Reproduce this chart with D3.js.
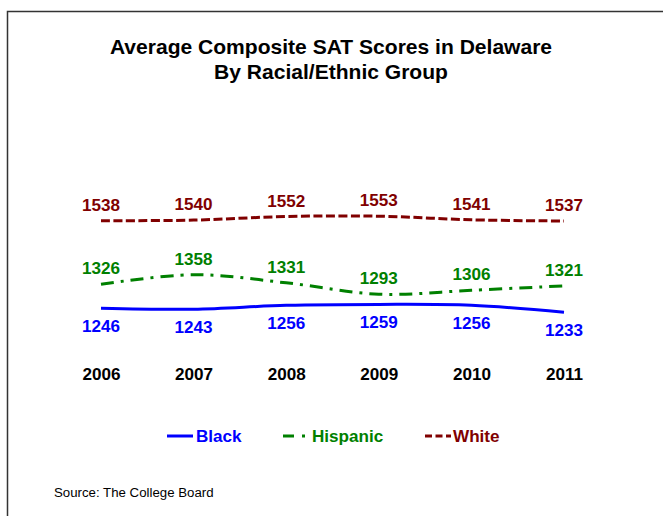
<!DOCTYPE html>
<head>
    <meta charset="utf-8"/>
    <script src="https://d3js.org/d3.v7.min.js"></script>
    <style>
        body { margin: 0; background: #fff; }
        text { font-family: "Liberation Sans", Arial, sans-serif; }
    </style>
</head>
<body>
<script>
    var width = 663,
        height = 516;

    // data
    var years = ["2006", "2007", "2008", "2009", "2010", "2011"];
    var black = [1246, 1243, 1256, 1259, 1256, 1233];
    var hispanic = [1326, 1358, 1331, 1293, 1306, 1321];
    var white = [1538, 1540, 1552, 1553, 1541, 1537];

    var series = [
        {name: "Black", values: black, color: "#0000ff", dash: null, labelDy: 24},
        {name: "Hispanic", values: hispanic, color: "#008000", dash: "13,7,3,7", labelDy: -10},
        {name: "White", values: white, color: "#800000", dash: "9,3.5", labelDy: -10}
    ];

    var svg = d3.select("body").append("svg")
        .attr("width", width)
        .attr("height", height);

    // frame
    svg.append("rect")
        .attr("x", 7.5).attr("y", 11.5)
        .attr("width", 700).attr("height", 600)
        .attr("fill", "none")
        .attr("stroke", "#333")
        .attr("stroke-width", 1.5);

    // text in the picture is a little wider than the font
    function stretched(sel, x, y, k) {
        return sel.attr("transform", "translate(" + x + "," + y + ") scale(" + k + ",1)");
    }

    // title
    var titleLines = ["Average Composite SAT Scores in Delaware", "By Racial/Ethnic Group"];
    titleLines.forEach(function (t, i) {
        stretched(svg.append("text"), 331, 54 + i * 25, 1.08)
            .attr("text-anchor", "middle")
            .attr("font-size", 19.5)
            .attr("font-weight", "bold")
            .attr("fill", "#000")
            .text(t);
    });

    var x = d3.scalePoint().domain(years).range([101, 564]);
    var y = d3.scaleLinear().domain([1200, 1600]).range([322.1, 202.1]);

    var line = d3.line()
        .x(function (d, i) { return x(years[i]); })
        .y(function (d) { return y(d); })
        .curve(d3.curveCatmullRom.alpha(0.5));

    series.forEach(function (s) {
        svg.append("path")
            .attr("d", line(s.values))
            .attr("fill", "none")
            .attr("stroke", s.color)
            .attr("stroke-width", 3)
            .attr("stroke-dasharray", s.dash);

        s.values.forEach(function (v, i) {
            stretched(svg.append("text"), x(years[i]), y(v) + s.labelDy, 1.07)
                .attr("text-anchor", "middle")
                .attr("font-size", 16)
                .attr("font-weight", "bold")
                .attr("fill", s.color)
                .text(v);
        });
    });

    // year labels as the x axis
    var axis = svg.append("g")
        .attr("transform", "translate(0,380)")
        .call(d3.axisBottom(x).tickSize(0).tickPadding(0));
    axis.select(".domain").remove();
    axis.selectAll(".tick text")
        .attr("y", 0).attr("dy", 0)
        .attr("transform", "scale(1.07,1)")
        .attr("font-size", 16)
        .attr("font-weight", "bold")
        .attr("fill", "#000")
        .attr("font-family", "Liberation Sans, Arial, sans-serif");

    // legend
    var legendItems = [
        {s: series[0], x1: 167, x2: 193, tx: 196, dash: null},
        {s: series[1], x1: 283, x2: 306, tx: 312, dash: "11,8,3,10"},
        {s: series[2], x1: 425, x2: 451, tx: 453, dash: "7,3.5"}
    ];
    legendItems.forEach(function (d) {
        svg.append("line")
            .attr("x1", d.x1).attr("x2", d.x2)
            .attr("y1", 436).attr("y2", 436)
            .attr("stroke", d.s.color)
            .attr("stroke-width", 3)
            .attr("stroke-dasharray", d.dash);
        stretched(svg.append("text"), d.tx, 442, 1.07)
            .attr("font-size", 16)
            .attr("font-weight", "bold")
            .attr("fill", d.s.color)
            .text(d.s.name);
    });

    // source
    stretched(svg.append("text"), 54, 497, 1.06)
        .attr("font-size", 12.5)
        .attr("fill", "#000")
        .text("Source: The College Board");
</script>
</body>
